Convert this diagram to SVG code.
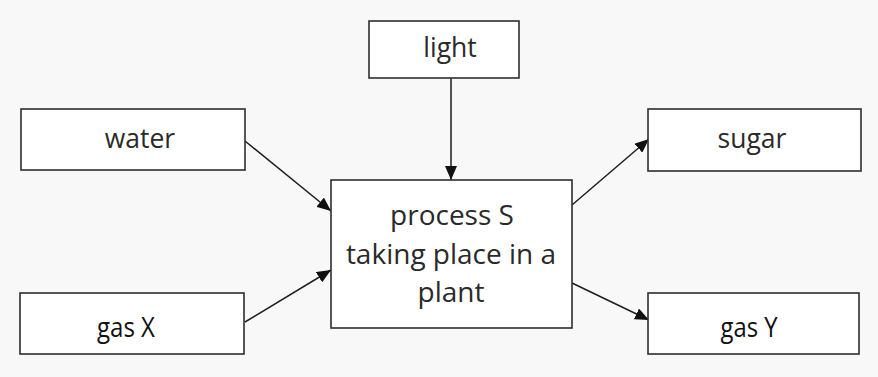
<svg xmlns="http://www.w3.org/2000/svg" width="878" height="377" viewBox="0 0 878 377">
<style>
.box{fill:#ffffff;stroke:#2e2e2e;stroke-width:1.6}
.lbl{font-family:"Open Sans","Noto Sans","Liberation Sans",sans-serif;font-size:26.5px;fill:#2a2a2a;text-anchor:middle}
.big{font-size:28px}
.gas{font-family:"Open Sans","Liberation Sans",sans-serif;font-size:28px;fill:#111;text-anchor:middle}
.conn{stroke:#1e1e1e;stroke-width:1.5;fill:none;marker-end:url(#ah)}
</style>
<defs>
<marker id="ah" markerUnits="userSpaceOnUse" markerWidth="14" markerHeight="12" refX="14" refY="6" orient="auto">
<path d="M0,0 L14,6 L0,12 Z" fill="#111"/>
</marker>
</defs>
<rect width="878" height="377" fill="#f8f8f8"/>
<g id="connectors">
<line class="conn" x1="451" y1="78" x2="451" y2="180"/>
<line class="conn" x1="245" y1="141" x2="331" y2="211"/>
<line class="conn" x1="245" y1="322" x2="331" y2="270"/>
<line class="conn" x1="572" y1="205" x2="649" y2="139"/>
<line class="conn" x1="572" y1="283" x2="649" y2="320"/>
</g>
<g id="light">
<rect class="box" x="369" y="21" width="150" height="57"/>
<text class="lbl" x="450" y="57">light</text>
</g>
<g id="water">
<rect class="box" x="21" y="109" width="224" height="61"/>
<text class="lbl" x="140" y="148">water</text>
</g>
<g id="gasX">
<rect class="box" x="20" y="293" width="224" height="61"/>
<text class="gas" x="126" y="337" textLength="58" lengthAdjust="spacingAndGlyphs">gas X</text>
</g>
<g id="processS">
<rect class="box" x="331" y="180" width="241" height="148"/>
<text class="lbl big" x="452" y="225">process S</text>
<text class="lbl big" x="451" y="264">taking place in a</text>
<text class="lbl big" x="451" y="302">plant</text>
</g>
<g id="sugar">
<rect class="box" x="648" y="109" width="213" height="62"/>
<text class="lbl" x="752" y="148">sugar</text>
</g>
<g id="gasY">
<rect class="box" x="648" y="293" width="211" height="61"/>
<text class="gas" x="749" y="337" textLength="57" lengthAdjust="spacingAndGlyphs">gas Y</text>
</g>
</svg>
